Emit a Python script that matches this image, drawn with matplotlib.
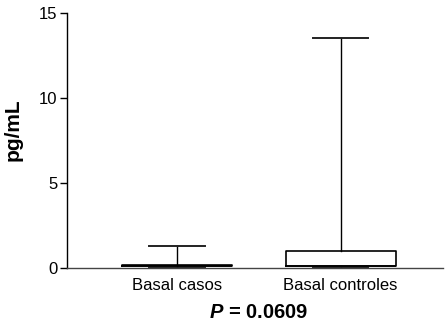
import matplotlib
matplotlib.use("Agg")
import matplotlib.pyplot as plt

plt.rcParams['font.family'] = ['Liberation Sans', 'DejaVu Sans']
plt.rcParams['mathtext.fontset'] = 'custom'
plt.rcParams['mathtext.it'] = 'Liberation Sans:italic:bold'
plt.rcParams['mathtext.rm'] = 'Liberation Sans:bold'

# box summaries (pg/mL)
groups = ["Basal casos", "Basal controles"]
whislo = [0.0, 0.04]
q1 = [0.08, 0.1]
med = [0.12, 0.1]
q3 = [0.17, 1.0]
whishi = [1.3, 13.5]
p_text = "0.0609"

stats = []
for i, g in enumerate(groups):
    stats.append(dict(label=g, whislo=whislo[i], q1=q1[i], med=med[i],
                      q3=q3[i], whishi=whishi[i], fliers=[]))

fig = plt.figure(figsize=(4.45, 3.25), dpi=100)
ax = fig.add_axes([0.1506, 0.176, 0.846, 0.785])

lw = 1.0
ax.bxp(stats, positions=[1, 2], widths=0.67, showfliers=False,
       boxprops=dict(color='black', linewidth=1.2),
       medianprops=dict(color='black', linewidth=1.2),
       whiskerprops=dict(color='black', linewidth=lw),
       capprops=dict(color='#222222', linewidth=1.4),
       capwidths=0.34)

ax.set_xlim(0.329, 2.628)
ax.set_ylim(0, 15)
ax.set_yticks([0, 5, 10, 15])
ax.spines['top'].set_visible(False)
ax.spines['right'].set_visible(False)
ax.spines['left'].set_linewidth(1.0)
ax.spines['bottom'].set_linewidth(1.0)
ax.spines['bottom'].set_color('#444444')
ax.tick_params(axis='y', length=5, width=1.0, labelsize=12, pad=2)
ax.tick_params(axis='x', length=0, labelsize=12, pad=7)

ax.set_ylabel("pg/mL", fontsize=15, fontweight='bold')
ax.yaxis.set_label_coords(-0.117, 0.54)

fig.text(0.581, 0.038, r"$\it{P}$" + " = " + p_text, ha='center', va='center',
         fontsize=14.5, fontweight='bold')

fig.savefig("out.png", dpi=100)
